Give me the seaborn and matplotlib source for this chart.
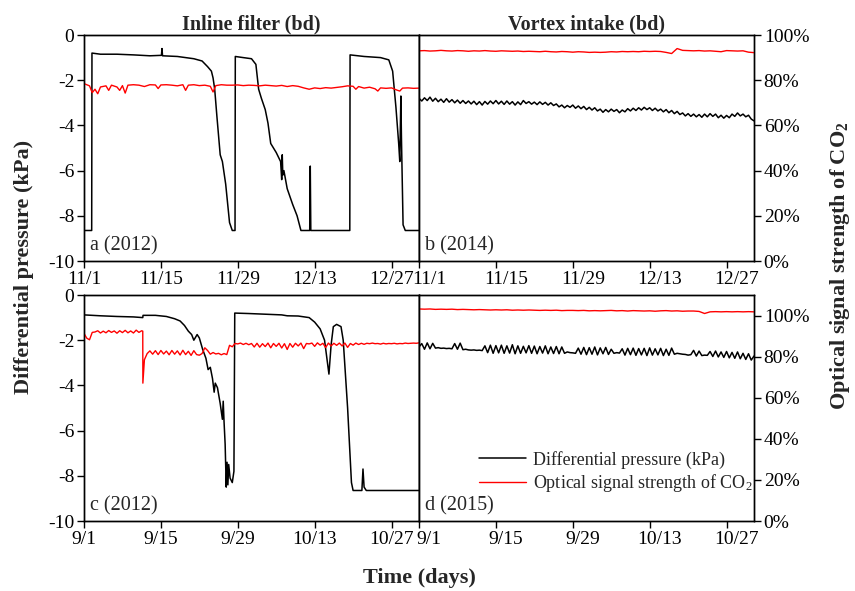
import numpy as np
import matplotlib
matplotlib.use('Agg')
import matplotlib.pyplot as plt
import matplotlib.transforms as mtransforms
import seaborn as sns

sns.set_style('ticks', {'axes.edgecolor': 'black', 'xtick.color': 'black', 'ytick.color': 'black'})
plt.rcParams['font.family'] = ['Liberation Serif', 'DejaVu Serif']
plt.rcParams['mathtext.fontset'] = 'custom'
plt.rcParams['mathtext.rm'] = 'Liberation Serif'
plt.rcParams['mathtext.bf'] = 'Liberation Serif:bold'
plt.rcParams['mathtext.default'] = 'regular'
plt.rcParams['axes.unicode_minus'] = False

# ---- tick labels (days since start of period) ----
tick_days = [0, 14, 28, 42, 56]
nov_labels = ['11/1', '11/15', '11/29', '12/13', '12/27']
sep_labels = ['9/1', '9/15', '9/29', '10/13', '10/27']

# ---- panel a: inline filter 2012 (Nov-Dec) ----
a_day = [0, 1.4, 1.45, 3, 6, 9, 12, 14.1, 14.2, 14.3, 17, 20, 21.5, 22.5, 23.2, 23.5, 23.8,
         24.2, 24.8, 25.2, 25.8, 26.5, 27.0, 27.5, 27.55, 29, 30.5, 31.3, 31.8, 32.3, 33,
         33.5, 34, 35, 35.8, 36.0, 36.1, 36.2, 36.4, 37, 38, 38.8, 39.5, 41.1, 41.2, 41.3,
         48.4, 48.45, 51, 54, 55.5, 56.2, 56.8, 57.3, 57.5, 57.7, 57.8, 58.1, 58.5, 61]
a_dp = [-8.65, -8.65, -0.8, -0.85, -0.85, -0.88, -0.92, -0.9, -0.6, -0.92, -0.95, -1.05, -1.15,
        -1.4, -1.6, -1.9, -2.4, -3.6, -5.3, -5.6, -6.6, -8.3, -8.65, -8.65, -0.95, -1.0, -1.05,
        -1.3, -2.4, -2.8, -3.3, -3.9, -4.8, -5.2, -5.6, -6.4, -5.3, -6.2, -6.0, -6.8, -7.5,
        -8.0, -8.65, -8.65, -5.8, -8.65, -8.65, -0.88, -0.95, -1.0, -1.1, -1.6, -3.2, -4.8,
        -5.6, -2.7, -4.5, -8.4, -8.65, -8.65]
a_sig_day = [0, 1, 1.5, 2, 2.5, 3, 4, 4.5, 5, 6, 6.5, 7, 7.5, 8, 9, 10, 11, 12, 13, 13.5, 14,
             15, 16, 17, 18, 18.5, 19, 20, 21, 22, 23, 23.5, 24, 25, 26, 27, 28, 29, 30, 31,
             32, 33, 34, 35, 36, 37, 38, 39, 40, 41, 42, 43, 44, 45, 46, 47, 48, 49, 49.5, 50,
             51, 52, 53, 53.5, 54, 55, 56, 57, 57.5, 58, 59, 60, 61]
a_sig = [78.5, 77.5, 74.5, 76.0, 74.0, 77.0, 77.5, 75.5, 77.8, 77.0, 75.5, 77.6, 74.3, 77.8,
         78.0, 77.8, 77.2, 78.0, 77.9, 76.3, 77.9, 78.0, 77.8, 77.5, 78.0, 75.5, 77.8, 78.0,
         77.6, 77.8, 77.3, 74.8, 77.6, 78.0, 77.8, 77.8, 77.9, 77.6, 77.8, 77.7, 77.5, 77.8,
         77.6, 77.4, 77.7, 77.2, 77.6, 77.3, 76.6, 76.0, 76.6, 76.3, 76.7, 76.5, 76.8, 77.1,
         77.5, 77.3, 76.0, 77.2, 76.5, 76.9, 76.2, 75.2, 76.6, 76.4, 76.6, 75.6, 75.2, 76.5,
         76.6, 76.4, 76.5]

# ---- panel b: vortex intake 2014 (Nov-Dec), half-day samples ----
b_dp = [-2.80, -2.92, -2.78, -2.90, -2.75, -2.93, -2.80, -2.95, -2.84, -2.98, -2.82,
        -2.97, -2.86, -3.00, -2.88, -3.02, -2.90, -3.03, -2.92, -3.05, -2.93,
        -3.08, -2.95, -3.10, -2.94, -3.06, -2.92, -3.04, -2.90, -3.05, -2.93,
        -3.07, -2.92, -3.06, -2.95, -3.10, -2.96, -3.08, -2.90, -3.03, -2.95,
        -3.06, -2.97, -3.08, -2.96, -3.07, -2.98, -3.10, -3.00, -3.12, -3.05,
        -3.18, -3.10, -3.22, -3.12, -3.20, -3.10, -3.24, -3.14, -3.26, -3.16,
        -3.30, -3.20, -3.32, -3.22, -3.36, -3.28, -3.42, -3.30, -3.40, -3.28,
        -3.38, -3.30, -3.44, -3.32, -3.40, -3.26, -3.36, -3.24, -3.34, -3.22,
        -3.32, -3.20, -3.30, -3.22, -3.34, -3.24, -3.36, -3.28, -3.40, -3.30,
        -3.44, -3.34, -3.48, -3.38, -3.52, -3.45, -3.58, -3.48, -3.60, -3.50,
        -3.62, -3.52, -3.64, -3.50, -3.62, -3.48, -3.60, -3.50, -3.66, -3.55,
        -3.68, -3.56, -3.66, -3.50, -3.60, -3.45, -3.58, -3.50, -3.62, -3.55,
        -3.72, -3.80]
b_sig = [93.0, 93.1, 92.9, 93.0, 93.2, 93.0, 92.9, 93.1, 93.0, 92.8,
         93.0, 92.9, 93.1, 92.9, 92.8, 93.0, 92.9, 92.8, 92.9, 92.7,
         92.8, 92.7, 92.6, 92.8, 92.6, 92.5, 92.7, 92.6, 92.4, 92.6,
         92.5, 92.3, 92.4, 92.3, 92.4, 92.6, 92.5, 92.7, 92.6, 92.7,
         92.6, 92.8, 92.7, 92.8, 92.7, 92.3, 91.8, 94.0, 93.2, 93.1,
         93.0, 93.1, 92.9, 93.0, 92.8, 92.6, 93.1, 93.0, 92.9, 93.0,
         92.4, 92.2]

# ---- panel c: inline filter 2012 (Sep-Oct) ----
c_day = [0, 3, 6, 9, 10.7, 10.75, 13, 15, 16.5, 17.5, 18.3, 19.0, 19.6, 20.0, 20.6, 21.0,
         21.6, 22.2, 22.6, 23.0, 23.4, 23.7, 23.9, 24.3, 24.8, 25.2, 25.35, 25.5, 25.7, 25.9,
         26.05, 26.2, 26.35, 26.6, 27.0, 27.3, 27.45, 30, 33, 36, 37, 39, 41, 42, 43, 43.8,
         44.6, 45.0, 45.4, 46, 46.8, 47.2, 48.0, 48.7, 49.0, 50.6, 50.8, 51.0, 51.4, 61]
c_dp = [-0.88, -0.92, -0.95, -0.97, -1.0, -0.9, -0.9, -0.95, -1.05, -1.15, -1.35, -1.6, -1.75,
        -2.0, -1.75, -1.9, -2.4, -2.8, -3.3, -3.2, -3.7, -4.3, -3.9, -4.1, -4.8, -5.5, -4.7,
        -5.6, -6.6, -8.5, -7.4, -8.4, -7.5, -8.1, -8.3, -7.8, -0.8, -0.82, -0.85, -0.88, -0.92,
        -0.93, -1.0, -1.2, -1.5, -2.0, -3.5, -2.2, -1.4, -1.3, -1.4, -2.0, -5.0, -8.3, -8.65,
        -8.65, -7.7, -8.5, -8.65, -8.65]
c_sig = [91.3, 89.0, 88.2, 91.8, 92.0, 92.6, 91.5, 92.4, 91.6, 92.7, 91.8, 92.5, 91.4, 92.6,
         91.7, 92.8, 91.6, 92.5, 91.5, 92.9, 91.8, 92.6,
         92.4, 67.1,
         78.5, 81.5, 82.8, 81.2, 82.9, 81.0, 83.0, 81.3, 82.7, 80.9,
         83.0, 81.2, 82.8, 80.8, 83.1, 81.0, 82.6, 80.6, 82.9, 81.0,
         80.7, 81.5, 84.3, 83.0, 81.2, 82.0, 81.3, 81.6, 80.9, 81.5,
         81.0, 85.5, 84.8, 86.4, 86.2, 86.6, 85.9, 86.5, 85.8, 86.4,
         84.7, 86.5, 84.6, 86.3, 84.9, 86.6, 84.3, 86.4, 85.0, 86.5,
         84.2, 86.3, 83.5, 86.4, 84.6, 86.5, 85.2, 86.6, 83.9, 86.4,
         86.2, 86.6, 85.0, 86.7, 85.6, 86.5, 84.4, 86.6, 85.2, 86.5,
         85.5, 86.6, 85.2, 86.6, 84.5, 86.4, 85.6, 86.6, 85.9, 86.5,
         86.0, 86.5, 86.3, 86.6, 86.3, 86.4, 86.1, 86.5, 86.2, 86.4,
         86.3, 86.5, 86.2, 86.4, 86.3, 86.6, 86.4, 86.5, 86.6, 86.5,
         86.7]

# ---- panel d: vortex intake 2015 (Sep-Oct), half-day samples ----
d_dp = [-2.30, -2.15, -2.40, -2.12, -2.38, -2.14, -2.35, -2.33, -2.36, -2.35, -2.37,
        -2.36, -2.38, -2.15, -2.40, -2.13, -2.42, -2.40, -2.43, -2.44, -2.43,
        -2.45, -2.44, -2.46, -2.25, -2.55, -2.22, -2.58, -2.24, -2.56, -2.22,
        -2.58, -2.25, -2.57, -2.20, -2.60, -2.25, -2.58, -2.27, -2.56, -2.24,
        -2.58, -2.26, -2.60, -2.28, -2.57, -2.25, -2.60, -2.30, -2.59, -2.28,
        -2.60, -2.30, -2.58, -2.52, -2.55, -2.56, -2.58, -2.35, -2.62, -2.32,
        -2.64, -2.33, -2.62, -2.30, -2.65, -2.34, -2.60, -2.32, -2.63, -2.40,
        -2.58, -2.55, -2.57, -2.38, -2.66, -2.36, -2.64, -2.35, -2.67, -2.37,
        -2.65, -2.36, -2.68, -2.34, -2.66, -2.38, -2.65, -2.36, -2.68, -2.40,
        -2.67, -2.35, -2.62, -2.58, -2.60, -2.62, -2.63, -2.66, -2.64, -2.45,
        -2.70, -2.48, -2.68, -2.66, -2.67, -2.50, -2.72, -2.48, -2.74, -2.52,
        -2.76, -2.50, -2.78, -2.54, -2.80, -2.52, -2.82, -2.58, -2.85, -2.60,
        -2.88, -2.70]
d_sig = [103.2, 103.1, 103.2, 103.0, 103.1, 103.0, 103.1, 102.9, 103.0, 102.9,
         102.8, 102.9, 102.8, 102.7, 102.8, 102.7, 102.8, 102.6, 102.7, 102.6,
         102.7, 102.6, 102.5, 102.6, 102.5, 102.6, 102.4, 102.5, 102.5, 102.4,
         102.5, 102.3, 102.4, 102.3, 102.4, 102.5, 102.3, 102.4, 102.2, 102.4,
         102.3, 102.2, 102.3, 102.1, 102.3, 102.4, 102.2, 102.3, 102.1, 102.2,
         102.2, 102.0, 101.0, 101.8, 101.9, 101.8, 101.9, 101.8, 101.9, 101.8,
         101.9, 101.8]

half_days = np.arange(0, 61.01, 0.5)
whole_days = np.arange(0, 62)
c_sig_day = np.r_[np.arange(0, 10.51, 0.5), 10.7, 10.72, np.arange(11, 61.01, 0.5)]


def draw_panel(rect, days, dp, sig_days, sig, sig_top, xlabels, tag, right_side):
    ax = fig.add_axes(rect)
    sns.lineplot(x=days, y=dp, ax=ax, color='black', linewidth=1.1, estimator=None, sort=False)
    ax.set_xlim(0, 61)
    ax.set_ylim(-10, 0)
    ax.set_yticks(range(-10, 1, 2))
    ax.set_xticks(tick_days)
    ax.set_xticklabels(xlabels)
    ax.set_xlabel('')
    ax.set_ylabel('')
    ax.tick_params(direction='out', length=5, width=1, labelsize=14, pad=2)
    ax2 = ax.twinx()
    sns.lineplot(x=sig_days, y=sig, ax=ax2, color='red', linewidth=1.0, estimator=None, sort=False)
    ax2.set_ylim(0, sig_top)
    ax2.set_yticks(range(0, 101, 20))
    ax2.set_yticklabels([f'{v}%' for v in range(0, 101, 20)])
    ax2.set_ylabel('')
    ax2.tick_params(direction='out', length=5, width=1, labelsize=14, pad=2)
    if right_side:
        ax.tick_params(left=False, labelleft=False)
        # the right-hand panels have their date labels sitting a little right of the ticks
        shift = mtransforms.ScaledTranslation(10 / 100, 0, fig.dpi_scale_trans)
        for lab in ax.get_xticklabels():
            lab.set_transform(lab.get_transform() + shift)
    else:
        ax2.tick_params(right=False, labelright=False)
    for a in (ax, ax2):
        for s in a.spines.values():
            s.set_visible(True)
            s.set_linewidth(1)
            s.set_color('black')
    ax.text(0.017, 0.045, tag, transform=ax.transAxes, fontsize=14.5, va='baseline')
    return ax, ax2


fig = plt.figure(figsize=(8.55, 5.91), dpi=100)
L, W = 84 / 855, 335 / 855
R = 419 / 855
H = 226 / 591
TB = (591 - 261) / 591
BB = (591 - 521) / 591

ax_a, _ = draw_panel([L, TB, W, H], a_day, a_dp, a_sig_day, a_sig, 100, nov_labels, 'a (2012)', False)
ax_b, _ = draw_panel([R, TB, W, H], half_days, b_dp, whole_days, b_sig, 100, nov_labels, 'b (2014)', True)
ax_c, _ = draw_panel([L, BB, W, H], c_day, c_dp, c_sig_day, c_sig, 110, sep_labels, 'c (2012)', False)
ax_d, ax_d2 = draw_panel([R, BB, W, H], half_days, d_dp, whole_days, d_sig, 110, sep_labels, 'd (2015)', True)

ax_a.set_title('Inline filter (bd)', fontweight='bold', fontsize=14.5, pad=4)
ax_b.set_title('Vortex intake (bd)', fontweight='bold', fontsize=14.5, pad=4)

ax_d2.legend(handles=[ax_d.lines[0], ax_d2.lines[0]],
             labels=['Differential pressure (kPa)', 'Optical signal strength of CO$_2$'],
             loc='upper left', bbox_to_anchor=(0.18, 0.31), frameon=False, fontsize=13,
             handlelength=2.6, handletextpad=0.4, borderpad=0, borderaxespad=0, labelspacing=0.2)

fig.text(0.028, 0.548, 'Differential pressure (kPa)', rotation=90, fontsize=16,
         fontweight='bold', ha='center', va='center')
fig.text(0.983, 0.55, r'Optical signal strength of CO$_\mathbf{2}$', rotation=90, fontsize=16,
         fontweight='bold', ha='center', va='center')
fig.text(0.491, 0.022, 'Time (days)', fontsize=16, fontweight='bold', ha='center', va='center')

plt.savefig('out.png', dpi=100)
